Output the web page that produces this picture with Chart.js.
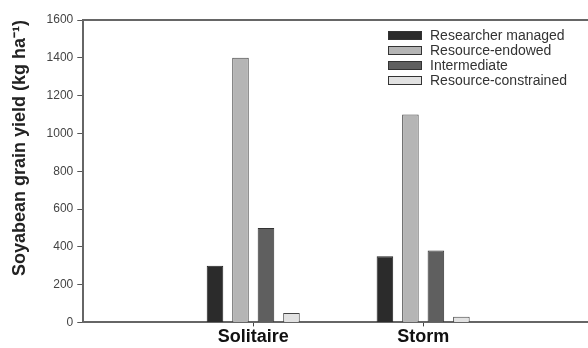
<!DOCTYPE html>
<html>
<head>
<meta charset="utf-8">
<script src="https://cdn.jsdelivr.net/npm/chart.js@4/dist/chart.umd.min.js"></script>
<style>
  html, body { margin: 0; padding: 0; background: #fff; }
  #wrap { width: 588px; height: 348px; }
</style>
</head>
<body>
<div id="wrap"><canvas id="chartCanvas"></canvas></div>
<script>
// Data for chart
var varieties = ['Solitaire', 'Storm'];
var researcherManaged = [300, 350];
var resourceEndowed = [1400, 1100];
var intermediate = [500, 380];
var resourceConstrained = [50, 30];
var yTicks = [0, 200, 400, 600, 800, 1000, 1200, 1400, 1600];

var FONT = 'Arial, "Liberation Sans", sans-serif';

// bars sit at x = 1, 2 on a linear axis
function toPoints(arr) {
  return arr.map((v, i) => ({ x: i + 1, y: v }));
}

// simple legend drawn inside the plot area, top right
var insideLegend = {
  id: 'insideLegend',
  afterDraw(chart) {
    var c = chart.ctx;
    var area = chart.chartArea;
    c.save();
    // top frame line
    c.strokeStyle = '#666';
    c.lineWidth = 2;
    c.beginPath();
    c.moveTo(area.left - 1, area.top);
    c.lineTo(area.right, area.top);
    c.stroke();

    c.font = '14px ' + FONT;
    c.textBaseline = 'middle';
    chart.data.datasets.forEach(function (ds, i) {
      var y = 35.5 + i * 15;
      c.fillStyle = ds.backgroundColor;
      c.strokeStyle = '#333';
      c.lineWidth = 1;
      c.fillRect(388.5, y - 4, 33, 8);
      c.strokeRect(388.5, y - 4, 33, 8);
      c.fillStyle = '#333';
      c.fillText(ds.label, 430, y + 1);
    });
    c.restore();
  }
};

var ctx = document.getElementById('chartCanvas').getContext('2d');

var chart = new Chart(ctx, {
  type: 'bar',
  data: {
    datasets: [
      { label: 'Researcher managed', data: toPoints(researcherManaged), backgroundColor: '#2b2b2b', borderColor: '#222', borderWidth: 1 },
      { label: 'Resource-endowed', data: toPoints(resourceEndowed), backgroundColor: '#b5b5b5', borderColor: '#444', borderWidth: 1 },
      { label: 'Intermediate', data: toPoints(intermediate), backgroundColor: '#5f5f5f', borderColor: '#333', borderWidth: 1 },
      { label: 'Resource-constrained', data: toPoints(resourceConstrained), backgroundColor: '#e2e2e2', borderColor: '#444', borderWidth: 1 }
    ]
  },
  options: {
    responsive: true,
    maintainAspectRatio: false,
    animation: false,
    layout: { padding: { top: 20, right: 0, bottom: 0, left: 0 } },
    datasets: {
      bar: { categoryPercentage: 0.6, barPercentage: 0.65 }
    },
    scales: {
      x: {
        type: 'linear',
        min: 0,
        max: 2.97,
        offset: false,
        afterBuildTicks: function (axis) {
          axis.ticks = varieties.map((v, i) => ({ value: i + 1 }));
        },
        ticks: {
          callback: function (value) { return varieties[value - 1] || ''; },
          color: '#111',
          font: { family: FONT, size: 18, weight: 'bold' },
          padding: 0,
          maxRotation: 0
        },
        grid: { drawOnChartArea: false, offset: false, tickLength: 4, color: '#444' },
        border: { color: '#666', width: 2 }
      },
      y: {
        min: 0,
        max: 1600,
        afterBuildTicks: function (axis) {
          axis.ticks = yTicks.map(v => ({ value: v }));
        },
        ticks: {
          callback: function (value) { return String(value); },
          color: '#444',
          font: { family: FONT, size: 12 },
          padding: 4
        },
        grid: { drawOnChartArea: false, tickLength: 6, color: '#555' },
        border: { color: '#666', width: 2 },
        title: {
          display: true,
          align: 'end',
          text: 'Soyabean grain yield (kg ha\u207B\u00B9)',
          color: '#222',
          font: { family: FONT, size: 18, weight: 'bold' },
          padding: { top: 9, bottom: 12 }
        }
      }
    },
    plugins: {
      legend: { display: false },
      tooltip: { enabled: false }
    }
  },
  plugins: [insideLegend]
});
</script>
</body>
</html>
